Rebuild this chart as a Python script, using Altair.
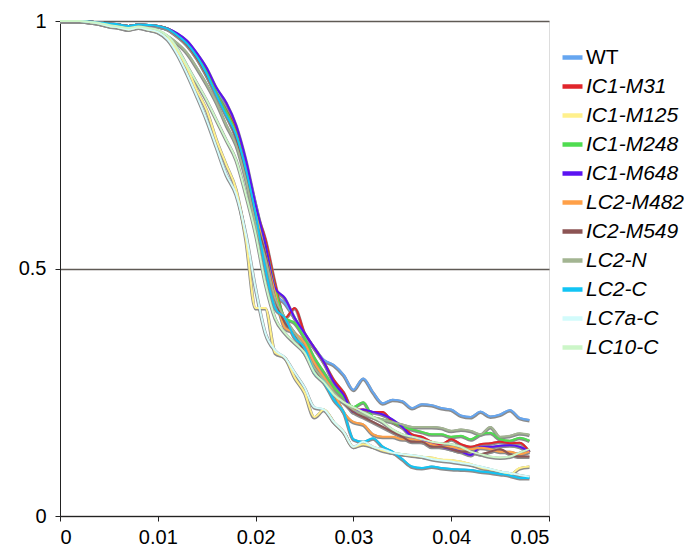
import altair as alt
import pandas as pd

x_vals = [0.000, 0.001, 0.002, 0.003, 0.004, 0.005, 0.006, 0.007, 0.008, 0.009,
          0.010, 0.011, 0.012, 0.013, 0.014, 0.015, 0.016, 0.017, 0.018, 0.019,
          0.020, 0.021, 0.022, 0.023, 0.024, 0.025, 0.026, 0.027, 0.028, 0.029,
          0.030, 0.031, 0.032, 0.033, 0.034, 0.035, 0.036, 0.037, 0.038, 0.039,
          0.040, 0.041, 0.042, 0.043, 0.044, 0.045, 0.046, 0.047, 0.048]

series_names = ["WT", "IC1-M31", "IC1-M125", "IC1-M248", "IC1-M648", "LC2-M482",
                "IC2-M549", "LC2-N", "LC2-C", "LC7a-C", "LC10-C"]
series_colors = ["#66a6f0", "#e0252b", "#fff08c", "#4fdc50", "#5b12f2", "#ffa048",
                 "#8c5454", "#a3b592", "#12c4f4", "#d2fbfb", "#ccf6c8"]

wt = [1.0, 1.0, 1.0, 0.999, 0.997, 0.995, 0.993, 0.99, 0.993, 0.992,
      0.99, 0.985, 0.972, 0.955, 0.93, 0.895, 0.86, 0.82, 0.78, 0.71,
      0.63, 0.54, 0.45, 0.43, 0.40, 0.365, 0.34, 0.315, 0.305, 0.285,
      0.255, 0.278, 0.25, 0.228, 0.235, 0.232, 0.218, 0.226, 0.224, 0.218,
      0.215, 0.203, 0.2, 0.211, 0.201, 0.205, 0.214, 0.198, 0.194]
ic1_m31 = [1.0, 1.0, 1.0, 0.999, 0.997, 0.995, 0.993, 0.99, 0.993, 0.992,
           0.99, 0.985, 0.973, 0.957, 0.932, 0.9, 0.855, 0.82, 0.78, 0.70,
           0.62, 0.56, 0.47, 0.40, 0.42, 0.37, 0.34, 0.31, 0.275, 0.25,
           0.215, 0.215, 0.21, 0.21, 0.19, 0.18, 0.165, 0.16, 0.15, 0.145,
           0.155, 0.145, 0.14, 0.145, 0.147, 0.15, 0.147, 0.148, 0.13]
ic1_m125 = [1.0, 1.0, 1.0, 0.998, 0.995, 0.99, 0.987, 0.983, 0.987, 0.983,
            0.978, 0.965, 0.94, 0.905, 0.86, 0.82, 0.76, 0.71, 0.66, 0.56,
            0.42, 0.42, 0.33, 0.32, 0.28, 0.25, 0.20, 0.215, 0.19, 0.17,
            0.14, 0.145, 0.14, 0.132, 0.128, 0.125, 0.122, 0.12, 0.118, 0.114,
            0.113, 0.11, 0.105, 0.098, 0.094, 0.09, 0.084, 0.097, 0.1]
ic1_m248 = [1.0, 1.0, 1.0, 0.999, 0.997, 0.995, 0.993, 0.99, 0.993, 0.992,
            0.99, 0.985, 0.972, 0.955, 0.93, 0.897, 0.855, 0.818, 0.775, 0.70,
            0.62, 0.55, 0.46, 0.40, 0.39, 0.36, 0.32, 0.29, 0.26, 0.24,
            0.22, 0.23, 0.20, 0.195, 0.19, 0.18, 0.175, 0.17, 0.165, 0.165,
            0.16, 0.162, 0.155, 0.165, 0.168, 0.155, 0.152, 0.158, 0.152]
ic1_m648 = [1.0, 1.0, 1.0, 0.999, 0.997, 0.995, 0.993, 0.99, 0.993, 0.992,
            0.99, 0.985, 0.975, 0.96, 0.935, 0.905, 0.865, 0.835, 0.79, 0.72,
            0.63, 0.55, 0.46, 0.44, 0.40, 0.37, 0.34, 0.31, 0.27, 0.245,
            0.21, 0.215, 0.21, 0.205, 0.195, 0.18, 0.16, 0.155, 0.145, 0.14,
            0.135, 0.13, 0.123, 0.14, 0.14, 0.142, 0.143, 0.14, 0.13]
lc2_m482 = [1.0, 1.0, 1.0, 0.999, 0.997, 0.995, 0.993, 0.99, 0.993, 0.992,
            0.99, 0.984, 0.97, 0.952, 0.925, 0.89, 0.85, 0.81, 0.77, 0.69,
            0.61, 0.53, 0.45, 0.38, 0.37, 0.35, 0.31, 0.28, 0.25, 0.21,
            0.19, 0.185, 0.165, 0.16, 0.16, 0.155, 0.155, 0.15, 0.145, 0.14,
            0.14, 0.135, 0.135, 0.138, 0.135, 0.13, 0.13, 0.125, 0.13]
ic2_m549 = [1.0, 1.0, 1.0, 0.999, 0.997, 0.995, 0.993, 0.99, 0.993, 0.992,
            0.99, 0.984, 0.97, 0.952, 0.925, 0.89, 0.85, 0.81, 0.765, 0.69,
            0.60, 0.53, 0.44, 0.39, 0.37, 0.33, 0.30, 0.27, 0.25, 0.23,
            0.21, 0.20, 0.19, 0.18, 0.17, 0.16, 0.15, 0.15, 0.14, 0.14,
            0.135, 0.13, 0.13, 0.125, 0.13, 0.135, 0.125, 0.12, 0.12]
lc2_n = [1.0, 1.0, 1.0, 0.998, 0.995, 0.991, 0.988, 0.984, 0.988, 0.985,
         0.98, 0.97, 0.955, 0.935, 0.905, 0.872, 0.835, 0.79, 0.75, 0.68,
         0.59, 0.52, 0.44, 0.40, 0.37, 0.34, 0.30, 0.275, 0.25, 0.23,
         0.215, 0.205, 0.20, 0.195, 0.19, 0.185, 0.18, 0.18, 0.18, 0.178,
         0.172, 0.175, 0.172, 0.165, 0.18, 0.16, 0.162, 0.167, 0.164]
lc2_c = [1.0, 1.0, 1.0, 0.999, 0.997, 0.995, 0.993, 0.99, 0.993, 0.992,
         0.99, 0.984, 0.971, 0.954, 0.928, 0.893, 0.85, 0.81, 0.77, 0.70,
         0.61, 0.50, 0.42, 0.40, 0.36, 0.34, 0.29, 0.27, 0.235, 0.21,
         0.155, 0.15, 0.157, 0.14, 0.13, 0.115, 0.10, 0.097, 0.10, 0.097,
         0.095, 0.094, 0.093, 0.09, 0.088, 0.085, 0.082, 0.077, 0.077]
lc7a_c = [1.0, 1.0, 1.0, 0.998, 0.995, 0.99, 0.987, 0.983, 0.987, 0.983,
          0.978, 0.963, 0.933, 0.893, 0.848, 0.80, 0.745, 0.69, 0.65, 0.57,
          0.46, 0.37, 0.335, 0.32, 0.29, 0.26, 0.22, 0.215, 0.19, 0.17,
          0.14, 0.15, 0.14, 0.135, 0.128, 0.125, 0.123, 0.12, 0.115, 0.112,
          0.11, 0.107, 0.104, 0.10, 0.095, 0.09, 0.087, 0.083, 0.08]
lc10_c = [1.0, 1.0, 1.0, 0.998, 0.996, 0.992, 0.989, 0.986, 0.989, 0.986,
          0.982, 0.97, 0.945, 0.91, 0.875, 0.84, 0.80, 0.76, 0.72, 0.65,
          0.57, 0.47, 0.40, 0.37, 0.35, 0.33, 0.29, 0.27, 0.245, 0.23,
          0.22, 0.21, 0.20, 0.19, 0.175, 0.165, 0.16, 0.155, 0.15, 0.147,
          0.145, 0.14, 0.13, 0.125, 0.12, 0.118, 0.12, 0.128, 0.135]

all_series = [wt, ic1_m31, ic1_m125, ic1_m248, ic1_m648, lc2_m482,
              ic2_m549, lc2_n, lc2_c, lc7a_c, lc10_c]

rows = []
for name, vals in zip(series_names, all_series):
    for xv, yv in zip(x_vals, vals):
        rows.append({"x": xv, "y": yv, "series": name})
df = pd.DataFrame(rows)

FONT = "Liberation Sans"

x_enc = alt.X("x:Q", scale=alt.Scale(domain=[0, 0.05], nice=False),
              axis=alt.Axis(values=[0, 0.01, 0.02, 0.03, 0.04, 0.05], format="~g",
                            title=None, grid=False, domainColor="#222",
                            tickColor="#222", tickSize=5, labelFontSize=20,
                            labelColor="#000", labelPadding=6,
                            labelFont=FONT))
y_enc = alt.Y("y:Q", scale=alt.Scale(domain=[0, 1], nice=False),
              axis=alt.Axis(values=[0, 0.5, 1], format="~g", title=None,
                            grid=True, gridColor="#5f5a55", gridWidth=1.6,
                            gridOpacity=1,
                            domainColor="#222", tickColor="#222", tickSize=5,
                            labelFontSize=20, labelColor="#000", labelPadding=9,
                            labelFont=FONT))

shadow = alt.Chart(df).mark_line(
    interpolate="monotone", color="#8c8c8c", strokeWidth=3.4, yOffset=0.8
).encode(x=x_enc, y=y_enc, detail="series:N")

lines = alt.Chart(df).mark_line(interpolate="monotone", strokeWidth=2).encode(
    x=x_enc, y=y_enc,
    color=alt.Color("series:N", sort=series_names,
                    scale=alt.Scale(domain=series_names, range=series_colors),
                    legend=alt.Legend(
                        title=None, orient="none", legendX=500, legendY=24,
                        symbolType="stroke", symbolStrokeWidth=4.5,
                        symbolSize=400, labelFontSize=21, labelColor="#000",
                        labelFont=FONT,
                        labelFontStyle=alt.ExprRef(
                            "datum.label == 'WT' ? 'normal' : 'italic'"),
                        labelOffset=1, rowPadding=6, labelLimit=200)),
)

chart = alt.layer(shadow, lines).properties(
    width=489, height=495,
    autosize=alt.AutoSizeParams(type="none"),
    padding={"left": 52, "top": 13, "right": 135, "bottom": 30},
).configure_view(stroke="#9a9a9a", strokeWidth=1.5).configure(background="white")

chart.save("out.html", embed_options={"renderer": "svg", "actions": False})
